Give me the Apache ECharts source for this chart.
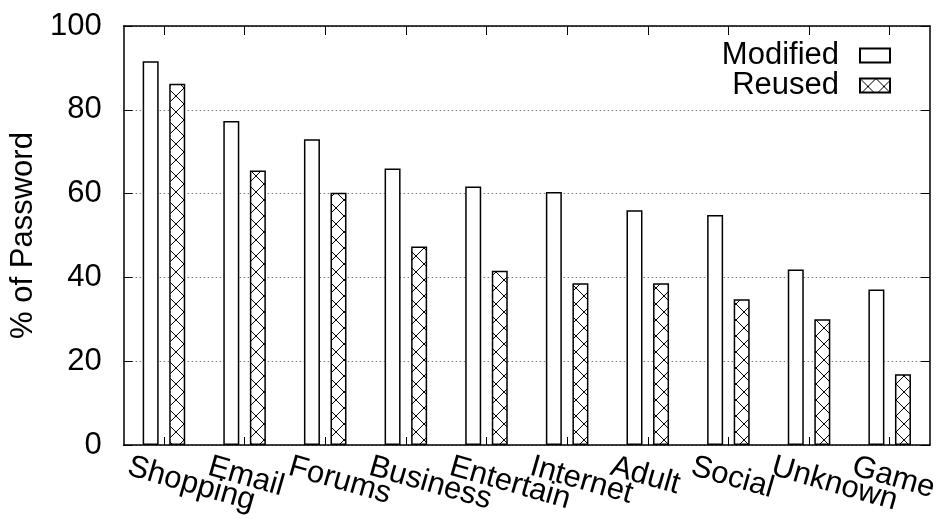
<!DOCTYPE html>
<html>
<head>
<meta charset="utf-8">
<script src="https://cdn.jsdelivr.net/npm/echarts@6/dist/echarts.min.js"></script>
<style>
  html, body { margin: 0; padding: 0; background: #fff; }
  #chart { width: 941px; height: 519px; }
</style>
</head>
<body>
<div id="chart"></div>
<script>
// Password categories and the share of passwords in each (percent)
const categories = ['Shopping', 'Email', 'Forums', 'Business', 'Entertain',
                    'Internet', 'Adult', 'Social', 'Unknown', 'Game'];
const modified = [91.6, 77.3, 73.0, 66.0, 61.7, 60.4, 56.0, 54.9, 41.9, 37.1];
const reused   = [86.2, 65.5, 60.2, 47.4, 41.6, 38.6, 38.6, 34.8, 30.0, 16.9];
const yTicks = [0, 20, 40, 60, 80, 100];

const FONT = 'Liberation Sans, Arial, Helvetica, sans-serif';

// Cross-hatch tile used to fill the "Reused" bars
function makeHatch(size) {
  const c = document.createElement('canvas');
  c.width = size; c.height = size;
  const g = c.getContext('2d');
  g.fillStyle = '#fff';
  g.fillRect(0, 0, size, size);
  g.strokeStyle = '#000';
  g.lineWidth = 1;
  g.beginPath();
  g.moveTo(0, 0); g.lineTo(size, size);
  g.moveTo(size, 0); g.lineTo(0, size);
  g.stroke();
  return c;
}
const hatch = { image: makeHatch(16), repeat: 'repeat' };

const chart = echarts.init(document.getElementById('chart'), null, { renderer: 'canvas' });

const frameLine = { show: true, onZero: false, lineStyle: { color: '#000', width: 1.5 } };
const tickStyle = { color: '#000', width: 1 };

chart.setOption({
  animation: false,
  backgroundColor: '#fff',
  textStyle: { fontFamily: FONT, color: '#000' },
  grid: [
    { left: 122, right: 11, top: 26, bottom: 74 },
    // same width, shifted left: carries the slanted category names
    { left: 88, right: 45, top: 26, bottom: 74 }
  ],
  legend: {
    orient: 'vertical',
    right: 50,
    top: 40,
    padding: 0,
    align: 'right',
    itemWidth: 30,
    itemHeight: 14,
    itemGap: -1,
    icon: 'rect',
    textStyle: { fontFamily: FONT, fontSize: 31, color: '#000', padding: [0, 16, 0, 0] },
    data: ['Modified', 'Reused']
  },
  xAxis: [
    {
      type: 'category', gridIndex: 0, data: categories, position: 'bottom',
      boundaryGap: true,
      axisLine: frameLine,
      axisTick: { show: true, inside: true, alignWithLabel: true, length: 8, lineStyle: tickStyle },
      axisLabel: { show: false },
      splitLine: { show: false }
    },
    {
      type: 'category', gridIndex: 0, data: categories, position: 'top',
      boundaryGap: true,
      axisLine: frameLine,
      axisTick: { show: true, inside: true, alignWithLabel: true, length: 9, lineStyle: tickStyle },
      axisLabel: { show: false },
      splitLine: { show: false }
    },
    {
      type: 'category', gridIndex: 1, data: categories, position: 'bottom',
      boundaryGap: true,
      axisLine: { show: false, onZero: false },
      axisTick: { show: false },
      axisLabel: {
        show: true, interval: 0, rotate: -16, align: 'left', verticalAlign: 'middle',
        margin: 21, fontFamily: FONT, fontSize: 31, color: '#000'
      }
    }
  ],
  yAxis: [
    {
      type: 'value', gridIndex: 0, min: 0, max: 100, interval: 20, position: 'left',
      name: '% of Password', nameLocation: 'middle', nameGap: 79,
      nameTextStyle: { fontFamily: FONT, fontSize: 31, color: '#000' },
      axisLine: frameLine,
      axisTick: { show: true, inside: true, length: 9, lineStyle: tickStyle },
      axisLabel: {
        margin: 22, fontFamily: FONT, fontSize: 31, color: '#000',
        formatter: v => (yTicks.indexOf(v) >= 0 ? String(v) : '')
      },
      splitLine: { show: true, lineStyle: { color: '#777', width: 1, type: [1.5, 2.5] } }
    },
    {
      type: 'value', gridIndex: 0, min: 0, max: 100, interval: 20, position: 'right',
      axisLine: frameLine,
      axisTick: { show: true, inside: true, length: 9, lineStyle: tickStyle },
      axisLabel: { show: false },
      splitLine: { show: false }
    },
    { type: 'value', gridIndex: 1, min: 0, max: 1, show: false }
  ],
  series: [
    {
      name: 'Modified', type: 'bar', xAxisIndex: 0, yAxisIndex: 0,
      data: modified, barWidth: 16, barGap: '66%',
      itemStyle: { color: '#fff', borderColor: '#000', borderWidth: 1.5 },
      emphasis: { disabled: true }
    },
    {
      name: 'Reused', type: 'bar', xAxisIndex: 0, yAxisIndex: 0,
      data: reused, barWidth: 16, barGap: '66%',
      itemStyle: { color: hatch, borderColor: '#000', borderWidth: 1.5 },
      emphasis: { disabled: true }
    }
  ]
});
</script>
</body>
</html>
